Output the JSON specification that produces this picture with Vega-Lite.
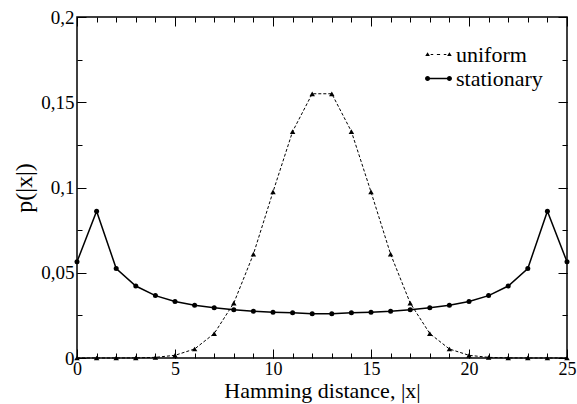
{
  "$schema": "https://vega.github.io/schema/vega-lite/v6.json",
  "width": 490,
  "height": 341,
  "autosize": "none",
  "padding": {"left": 77, "top": 17, "right": 10, "bottom": 46},
  "background": "white",
  "config": {
    "font": "Liberation Serif",
    "view": {"stroke": "black", "strokeWidth": 1.5},
    "axis": {
      "domain": false, "grid": false, "tickColor": "black", "tickWidth": 1,
      "labelFont": "Liberation Serif", "labelFontSize": 19, "labelColor": "black",
      "titleFont": "Liberation Serif", "titleFontWeight": "normal", "titleColor": "black"
    },
    "legend": {"labelFont": "Liberation Serif"}
  },
  "data": {"values": [
    {"x": 0, "p": 0.00000003, "series": "uniform"},
    {"x": 1, "p": 0.00000075, "series": "uniform"},
    {"x": 2, "p": 0.0000089, "series": "uniform"},
    {"x": 3, "p": 0.0000685, "series": "uniform"},
    {"x": 4, "p": 0.000377, "series": "uniform"},
    {"x": 5, "p": 0.00158, "series": "uniform"},
    {"x": 6, "p": 0.00528, "series": "uniform"},
    {"x": 7, "p": 0.01433, "series": "uniform"},
    {"x": 8, "p": 0.03223, "series": "uniform"},
    {"x": 9, "p": 0.06089, "series": "uniform"},
    {"x": 10, "p": 0.09742, "series": "uniform"},
    {"x": 11, "p": 0.13284, "series": "uniform"},
    {"x": 12, "p": 0.15498, "series": "uniform"},
    {"x": 13, "p": 0.15498, "series": "uniform"},
    {"x": 14, "p": 0.13284, "series": "uniform"},
    {"x": 15, "p": 0.09742, "series": "uniform"},
    {"x": 16, "p": 0.06089, "series": "uniform"},
    {"x": 17, "p": 0.03223, "series": "uniform"},
    {"x": 18, "p": 0.01433, "series": "uniform"},
    {"x": 19, "p": 0.00528, "series": "uniform"},
    {"x": 20, "p": 0.00158, "series": "uniform"},
    {"x": 21, "p": 0.000377, "series": "uniform"},
    {"x": 22, "p": 0.0000685, "series": "uniform"},
    {"x": 23, "p": 0.0000089, "series": "uniform"},
    {"x": 24, "p": 0.00000075, "series": "uniform"},
    {"x": 25, "p": 0.00000003, "series": "uniform"},
    {"x": 0, "p": 0.0564, "series": "stationary"},
    {"x": 1, "p": 0.0861, "series": "stationary"},
    {"x": 2, "p": 0.0525, "series": "stationary"},
    {"x": 3, "p": 0.0422, "series": "stationary"},
    {"x": 4, "p": 0.0366, "series": "stationary"},
    {"x": 5, "p": 0.0331, "series": "stationary"},
    {"x": 6, "p": 0.0309, "series": "stationary"},
    {"x": 7, "p": 0.0295, "series": "stationary"},
    {"x": 8, "p": 0.0283, "series": "stationary"},
    {"x": 9, "p": 0.0274, "series": "stationary"},
    {"x": 10, "p": 0.0269, "series": "stationary"},
    {"x": 11, "p": 0.0266, "series": "stationary"},
    {"x": 12, "p": 0.0259, "series": "stationary"},
    {"x": 13, "p": 0.0259, "series": "stationary"},
    {"x": 14, "p": 0.0266, "series": "stationary"},
    {"x": 15, "p": 0.0269, "series": "stationary"},
    {"x": 16, "p": 0.0274, "series": "stationary"},
    {"x": 17, "p": 0.0283, "series": "stationary"},
    {"x": 18, "p": 0.0295, "series": "stationary"},
    {"x": 19, "p": 0.0309, "series": "stationary"},
    {"x": 20, "p": 0.0331, "series": "stationary"},
    {"x": 21, "p": 0.0366, "series": "stationary"},
    {"x": 22, "p": 0.0422, "series": "stationary"},
    {"x": 23, "p": 0.0525, "series": "stationary"},
    {"x": 24, "p": 0.0861, "series": "stationary"},
    {"x": 25, "p": 0.0564, "series": "stationary"}
  ]},
  "resolve": {"axis": {"x": "independent", "y": "independent"}},
  "layer": [
    {
      "transform": [{"filter": "datum.series === 'uniform'"}],
      "mark": {"type": "line", "color": "black", "strokeWidth": 1, "strokeDash": [3, 2]},
      "encoding": {
        "x": {"field": "x", "type": "quantitative", "scale": {"domain": [0, 25], "nice": false},
          "axis": {"orient": "bottom", "values": [0, 5, 10, 15, 20, 25], "offset": -9, "tickSize": 9, "labelPadding": 2, "labelFontSize": 18,
            "title": "Hamming distance, |x|", "titleFontSize": 22, "titlePadding": 2, "labelFlush": false}},
        "y": {"field": "p", "type": "quantitative", "scale": {"domain": [0, 0.2], "nice": false},
          "axis": {"orient": "left", "values": [0, 0.05, 0.1, 0.15, 0.2], "offset": -9, "tickSize": 9, "labelPadding": 3,
            "labelExpr": "replace(toString(datum.value), '.', ',')", "title": "p(|x|)", "titleFontSize": 24, "titlePadding": 4}}
      }
    },
    {
      "transform": [{"filter": "datum.series === 'stationary'"}],
      "mark": {"type": "line", "color": "black", "strokeWidth": 1.5},
      "encoding": {
        "x": {"field": "x", "type": "quantitative",
          "axis": {"orient": "bottom", "values": [0,1,2,3,4,5,6,7,8,9,10,11,12,13,14,15,16,17,18,19,20,21,22,23,24,25], "offset": -5, "tickSize": 5, "labels": false, "title": null}},
        "y": {"field": "p", "type": "quantitative",
          "axis": {"orient": "left", "values": [0, 0.025, 0.05, 0.075, 0.1, 0.125, 0.15, 0.175, 0.2], "offset": -5, "tickSize": 5, "labels": false, "title": null}}
      }
    },
    {
      "transform": [{"filter": "datum.series === 'uniform'"}],
      "mark": {"type": "point", "shape": "triangle-up", "filled": true, "color": "black", "opacity": 1, "size": 30},
      "encoding": {
        "x": {"field": "x", "type": "quantitative",
          "axis": {"orient": "top", "values": [0, 5, 10, 15, 20, 25], "offset": -9, "tickSize": 9, "labels": false, "title": null}},
        "y": {"field": "p", "type": "quantitative",
          "axis": {"orient": "right", "values": [0, 0.05, 0.1, 0.15, 0.2], "offset": -9, "tickSize": 9, "labels": false, "title": null}}
      }
    },
    {
      "transform": [{"filter": "datum.series === 'stationary'"}],
      "mark": {"type": "point", "shape": "circle", "filled": true, "color": "black", "opacity": 1, "size": 25},
      "encoding": {
        "x": {"field": "x", "type": "quantitative",
          "axis": {"orient": "top", "values": [0,1,2,3,4,5,6,7,8,9,10,11,12,13,14,15,16,17,18,19,20,21,22,23,24,25], "offset": -5, "tickSize": 5, "labels": false, "title": null}},
        "y": {"field": "p", "type": "quantitative",
          "axis": {"orient": "right", "values": [0, 0.025, 0.05, 0.075, 0.1, 0.125, 0.15, 0.175, 0.2], "offset": -5, "tickSize": 5, "labels": false, "title": null}}
      }
    },
    {
      "transform": [{"filter": "datum.x < 0"}],
      "mark": {"type": "point", "filled": true, "color": "black", "opacity": 1},
      "encoding": {
        "x": {"field": "x", "type": "quantitative", "axis": null},
        "y": {"field": "p", "type": "quantitative", "axis": null},
        "shape": {"field": "series", "type": "nominal",
          "scale": {"domain": ["uniform", "stationary"],
            "range": ["M-0.95,-0.19L-0.75,0.14L-1.15,0.14Z M0.95,-0.19L1.15,0.14L0.75,0.14Z M-0.68,-0.04L-0.46,-0.04L-0.46,0.04L-0.68,0.04Z M-0.14,-0.04L0.14,-0.04L0.14,0.04L-0.14,0.04Z M0.46,-0.04L0.68,-0.04L0.68,0.04L0.46,0.04Z",
                      "M-1.17,0A0.22,0.22 0 1,1 -0.73,0A0.22,0.22 0 1,1 -1.17,0Z M0.73,0A0.22,0.22 0 1,1 1.17,0A0.22,0.22 0 1,1 0.73,0Z M-0.8,-0.06L0.8,-0.06L0.8,0.06L-0.8,0.06Z"]},
          "legend": {
            "title": null, "orient": "none", "legendX": 349, "legendY": 25,
            "labelFont": "Liberation Serif", "labelFontSize": 22, "labelColor": "black", "labelOffset": 5,
            "symbolSize": 529, "rowPadding": 0,
            "symbolFillColor": "black", "symbolStrokeColor": "black", "symbolOpacity": 1
          }}
      }
    }
  ]
}
